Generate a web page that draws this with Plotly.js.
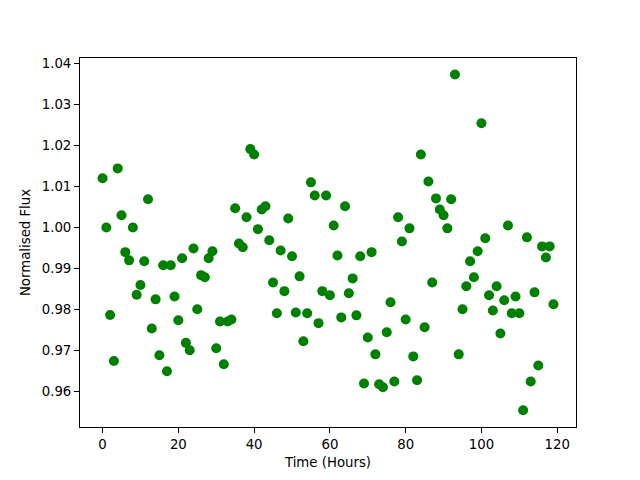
<!DOCTYPE html>
<html>
<head>
<meta charset="utf-8">
<script src="https://cdn.plot.ly/plotly-3.0.1.min.js"></script>
<style>html,body{margin:0;padding:0;background:#fff;}#chart{width:640px;height:480px;}</style>
</head>
<body>
<div id="chart"></div>
<script>
// Time in hours (one sample per hour)
const timeHours = [];
for (let i = 0; i < 120; i++) timeHours.push(i);

// Normalised flux values
const flux = [
  1.0120, 1.0000, 0.9787, 0.9675, 1.0144, 1.0030, 0.9940, 0.9920, 1.0000, 0.9836,
  0.9860, 0.9918, 1.0069, 0.9754, 0.9825, 0.9689, 0.9908, 0.9650, 0.9908, 0.9832,
  0.9774, 0.9925, 0.9719, 0.9701, 0.9949, 0.9801, 0.9884, 0.9879, 0.9925, 0.9942,
  0.9706, 0.9771, 0.9667, 0.9771, 0.9776, 1.0047, 0.9961, 0.9952, 1.0025, 1.0191,
  1.0178, 0.9996, 1.0044, 1.0052, 0.9969, 0.9866, 0.9791, 0.9944, 0.9845, 1.0022,
  0.9930, 0.9793, 0.9881, 0.9723, 0.9791, 1.0110, 1.0078, 0.9767, 0.9845, 1.0078,
  0.9835, 1.0005, 0.9932, 0.9781, 1.0052, 0.9840, 0.9876, 0.9786, 0.9930, 0.9620,
  0.9732, 0.9940, 0.9691, 0.9618, 0.9611, 0.9745, 0.9818, 0.9625, 1.0025, 0.9966,
  0.9776, 0.9998, 0.9686, 0.9628, 1.0178, 0.9757, 1.0112, 0.9866, 1.0071, 1.0044,
  1.0030, 0.9998, 1.0069, 1.0373, 0.9691, 0.9801, 0.9857, 0.9918, 0.9879, 0.9942,
  1.0254, 0.9974, 0.9835, 0.9798, 0.9857, 0.9742, 0.9823, 1.0005, 0.9791, 0.9832,
  0.9791, 0.9555, 0.9976, 0.9625, 0.9842, 0.9664, 0.9954, 0.9927, 0.9954, 0.9813
];

const xTicks = [0, 20, 40, 60, 80, 100, 120];
const yTicks = [0.96, 0.97, 0.98, 0.99, 1.00, 1.01, 1.02, 1.03, 1.04];

const font = {family: 'DejaVu Sans, sans-serif', size: 13.3, color: '#000'};

const trace = {
  x: timeHours,
  y: flux,
  type: 'scatter',
  mode: 'markers',
  marker: {color: '#008000', size: 10, line: {width: 0}},
  hoverinfo: 'none'
};

const axisCommon = {
  showgrid: false,
  zeroline: false,
  showline: true,
  linecolor: '#000',
  linewidth: 1,
  mirror: true,
  ticks: 'outside',
  ticklen: 5,
  tickwidth: 1,
  tickcolor: '#000',
  tickfont: font
};

const layout = {
  width: 640,
  height: 480,
  margin: {l: 80, r: 64, t: 58, b: 53},
  paper_bgcolor: '#fff',
  plot_bgcolor: '#fff',
  showlegend: false,
  font: font,
  xaxis: Object.assign({}, axisCommon, {
    range: [-5.95, 124.95],
    tickvals: xTicks,
    ticktext: xTicks.map(String),
    title: {text: 'Time (Hours)', font: font, standoff: 6}
  }),
  yaxis: Object.assign({}, axisCommon, {
    range: [0.9514, 1.0413],
    tickvals: yTicks,
    ticktext: yTicks.map(v => v.toFixed(2)),
    title: {text: 'Normalised Flux', font: font, standoff: 8}
  })
};

Plotly.newPlot('chart', [trace], layout, {staticPlot: true, displayModeBar: false});
</script>
</body>
</html>
